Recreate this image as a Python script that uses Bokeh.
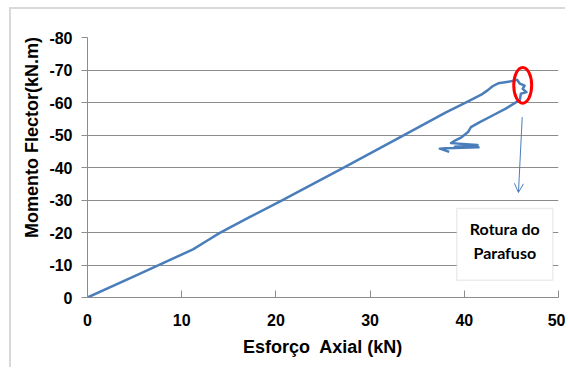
from bokeh.plotting import figure
from bokeh.models import (Range1d, FixedTicker, Arrow, OpenHead, Label,
                          BoxAnnotation)
from bokeh.embed import file_html
from bokeh.resources import INLINE

# Axial force (kN) vs bending moment (kN.m) along the loading path
axial = [0, 5.0, 11.2, 12.6, 14.0, 17.2, 20.6, 27.3, 33.5, 38.0, 40.3, 41.8,
         42.5, 43.0, 43.6, 45.1, 45.6, 45.9, 46.4, 46.2, 46.6, 46.0, 45.9,
         44.4, 43.0, 41.6, 40.7, 40.4, 39.7, 38.9, 38.6, 41.4, 39.0, 41.5,
         38.0, 37.4, 38.4]
moment = [0, -6.6, -14.8, -17.3, -19.8, -24.7, -29.8, -40.1, -49.8, -56.9,
          -60.2, -62.4, -63.8, -65.0, -65.9, -66.6, -67.0, -65.8, -65.2,
          -64.2, -63.2, -62.7, -60.8, -58.1, -56.0, -53.9, -52.4, -50.9,
          -49.3, -48.1, -47.5, -46.9, -46.4, -46.2, -45.9, -45.8, -44.8]

x_ticks = [0, 10, 20, 30, 40, 50]
y_ticks = [0, -10, -20, -30, -40, -50, -60, -70, -80]
y_tick_labels = ["0", "-10", "-20", "-30", "-40", "-50", "-60", "-70", "-80"]

# failure point marker and note
failure_x = 46.2
failure_y = -65.3
note_lines = ["Rotura do", "Parafuso"]

FONT = "Liberation Sans"
GRID = "#8c8c8c"
BLUE = "#4a7ebb"

p = figure(width=556, height=360, output_backend="svg", toolbar_location=None,
           x_range=Range1d(0, 50), y_range=Range1d(0, -80),
           min_border_left=76, min_border_right=9, min_border_top=28,
           min_border_bottom=72)
# light frame around the chart area (left and top edges)
p.styles = {"margin-left": "9px", "margin-top": "7px",
            "border-left": "2px solid #d9d9d9",
            "border-top": "2px solid #d9d9d9"}
p.outline_line_color = None
p.background_fill_color = "white"
p.border_fill_color = "white"

p.xgrid.grid_line_color = None
p.ygrid.grid_line_color = GRID
p.ygrid.grid_line_width = 1

p.xaxis.ticker = FixedTicker(ticks=x_ticks)
p.yaxis.ticker = FixedTicker(ticks=y_ticks)
p.yaxis.major_label_overrides = dict(zip(y_ticks, y_tick_labels))
for ax in (p.xaxis[0], p.yaxis[0]):
    ax.axis_line_color = GRID
    ax.major_tick_line_color = GRID
    ax.minor_tick_line_color = None
    ax.major_label_text_font = FONT
    ax.major_label_text_font_style = "bold"
    ax.major_label_text_font_size = "16px"
    ax.major_label_text_color = "black"
    ax.axis_label_text_font = FONT
    ax.axis_label_text_font_style = "bold"
    ax.axis_label_text_color = "black"

p.xaxis.major_tick_in = 7
p.xaxis.major_tick_out = 0
p.xaxis.major_label_standoff = 16
p.xaxis.axis_label = "Esforço\u00a0 Axial (kN)"
p.xaxis.axis_label_text_font_size = "18px"
p.xaxis.axis_label_standoff = 8

p.yaxis.major_tick_in = 0
p.yaxis.major_tick_out = 6
p.yaxis.major_label_standoff = 9
p.yaxis.axis_label = "\u00a0" * 12 + "Momento Flector(kN.m)"
p.yaxis.axis_label_text_font_size = "18px"
p.yaxis.axis_label_standoff = 4

p.line(axial, moment, line_color=BLUE, line_width=2.5, line_join="round")

# failure marker
p.ellipse(x=[failure_x], y=[failure_y], width=1.9, height=11,
          fill_color=None, line_color="#ff0000", line_width=3)

p.add_layout(Arrow(x_start=46.15, y_start=-55.5, x_end=45.75, y_end=-32.3,
                   line_color=BLUE, line_width=1,
                   end=OpenHead(size=9, line_color=BLUE, line_width=1)))

p.add_layout(BoxAnnotation(left=39.2, right=49.4, top=-27.4, bottom=-5.3,
                           fill_color="white", fill_alpha=1,
                           line_color="#bfbfbf", line_width=1.5))
for txt, yy in zip(note_lines, [-21.3, -13.8]):
    p.add_layout(Label(x=44.3, y=yy, text=txt, text_align="center",
                       text_baseline="middle", text_font="Lato",
                       text_font_style="bold", text_font_size="16px",
                       text_color="black"))

open("out.html", "w").write(file_html(p, INLINE))
